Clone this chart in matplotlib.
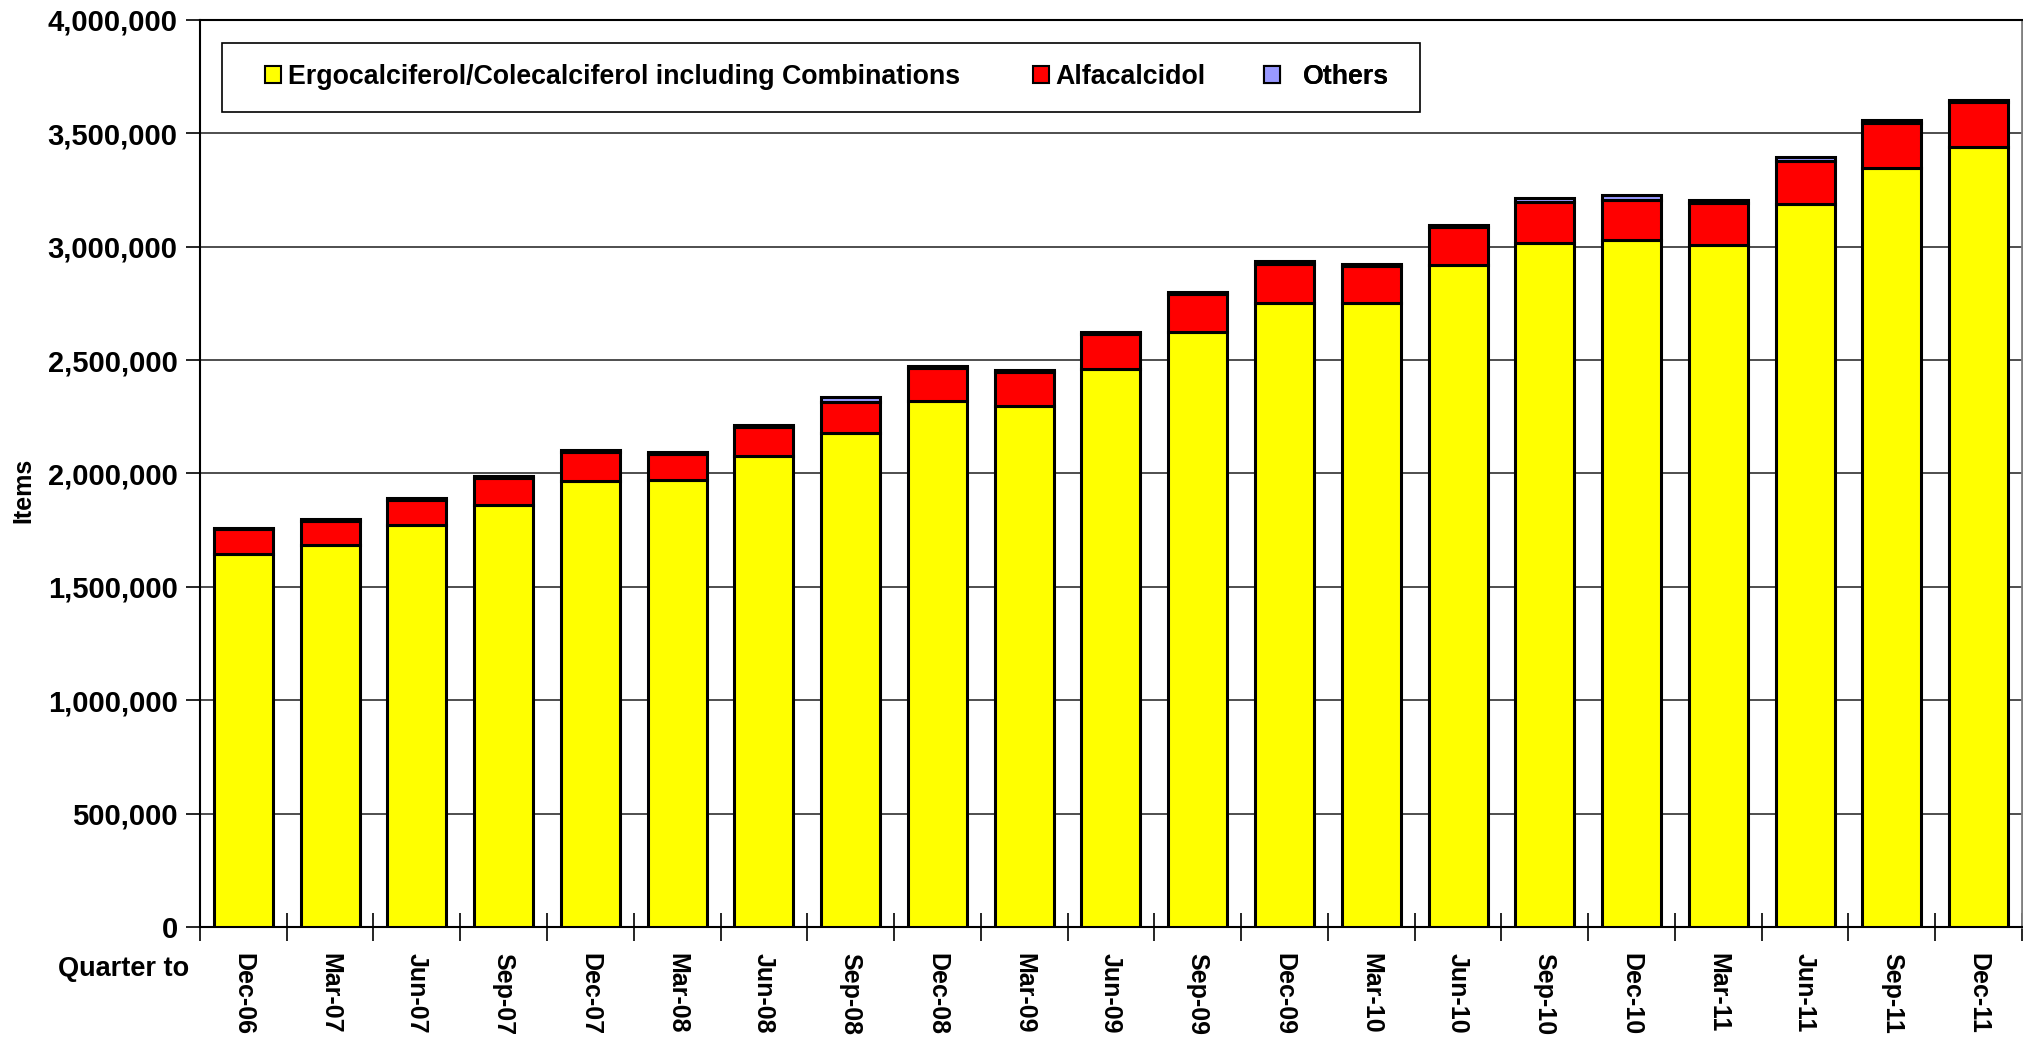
import numpy as np
import matplotlib.pyplot as plt
from matplotlib.patches import Patch, Rectangle
from matplotlib.ticker import FuncFormatter, MultipleLocator

# ===================== data =====================
quarters = ["Dec-06", "Mar-07", "Jun-07", "Sep-07", "Dec-07", "Mar-08", "Jun-08",
            "Sep-08", "Dec-08", "Mar-09", "Jun-09", "Sep-09", "Dec-09", "Mar-10",
            "Jun-10", "Sep-10", "Dec-10", "Mar-11", "Jun-11", "Sep-11", "Dec-11"]

ergo = [1644000, 1684000, 1772000, 1863000, 1968000, 1969000, 2077000,
        2179000, 2319000, 2298000, 2459000, 2624000, 2750000, 2750000,
        2917000, 3016000, 3028000, 3006000, 3188000, 3348000, 3439000]

alfa = [110000, 108000, 110000, 117000, 127000, 116000, 129000,
        138000, 146000, 150000, 154000, 166000, 175000, 165000,
        169000, 182000, 178000, 187000, 190000, 198000, 198000]

others = [7000, 9000, 8000, 9000, 9000, 10000, 8000,
          18000, 11000, 9000, 10000, 11000, 11000, 10000,
          9000, 18000, 20000, 12000, 18000, 11000, 11000]

series_names = ["Ergocalciferol/Colecalciferol including Combinations",
                "Alfacalcidol", "Others"]
series_colors = ["#FFFF00", "#FF0000", "#9999FF"]

# ===================== fonts =====================
plt.rcParams["font.family"] = ["Liberation Sans", "DejaVu Sans"]
plt.rcParams["font.weight"] = "bold"

# ===================== figure =====================
fig = plt.figure(figsize=(20.24, 10.47), dpi=100)
ax = fig.add_axes([0.0988, 0.1146, 0.9002, 0.8664])

x = np.arange(len(quarters))
ergo = np.array(ergo)
alfa = np.array(alfa)
others = np.array(others)

bar_kw = dict(width=0.68, edgecolor="black", linewidth=2.2, zorder=3)
ax.bar(x, ergo, color=series_colors[0], **bar_kw)
ax.bar(x, alfa, bottom=ergo, color=series_colors[1], **bar_kw)
ax.bar(x, others, bottom=ergo + alfa, color=series_colors[2], **bar_kw)

ax.set_xlim(-0.5, len(quarters) - 0.5)
ax.set_ylim(0, 4000000)

# y axis
ax.yaxis.set_major_locator(MultipleLocator(500000))
ax.yaxis.set_major_formatter(FuncFormatter(lambda v, p: f"{int(v):,}"))
ax.tick_params(axis="y", which="major", direction="out", length=10, width=1.2,
               labelsize=21, pad=6)
ax.grid(axis="y", color="#404040", linewidth=1.3, zorder=0)
ax.set_axisbelow(True)

# x axis: labels at bar centres, tick marks between bars
ax.set_xticks(x)
ax.set_xticklabels(quarters, rotation=270, fontsize=18, fontweight="bold")
ax.tick_params(axis="x", which="major", length=0, pad=19)
ax.set_xticks(np.arange(-0.5, len(quarters)), minor=True)
ax.tick_params(axis="x", which="minor", direction="inout", length=20, width=1.2)

for side in ["left", "top", "bottom"]:
    ax.spines[side].set_linewidth(1.5)
    ax.spines[side].set_color("black")
ax.spines["right"].set_color("#808080")
ax.spines["right"].set_linewidth(2)

fig.text(0.0115, 0.532, "Items", fontsize=18, fontweight="bold", rotation=90,
         ha="center", va="center")
fig.text(0.0287, 0.0745, "Quarter to", fontsize=19.5, fontweight="bold",
         ha="left", va="center")

# legend: frame drawn separately, one entry per legend so spacing can match
frame = Rectangle((0.0121, 0.8986), 0.6575, 0.076, transform=ax.transAxes,
                  facecolor="white", edgecolor="black", linewidth=1.2, zorder=5)
ax.add_patch(frame)
entry_x = [0.0357, 0.4572, 0.5840]
pads = [0.25, 0.25, 0.85]
for name, color, ex, pad in zip(series_names, series_colors, entry_x, pads):
    leg = ax.legend([Patch(facecolor=color, edgecolor="black", linewidth=1.5)], [name],
                    loc="center left", bbox_to_anchor=(ex, 0.9366), frameon=False,
                    prop={"weight": "bold", "size": 19.3},
                    handlelength=0.6, handleheight=0.6, handletextpad=pad,
                    borderpad=0, borderaxespad=0)
    leg.set_zorder(6)
    ax.add_artist(leg)

fig.savefig("out.png", dpi=100)
